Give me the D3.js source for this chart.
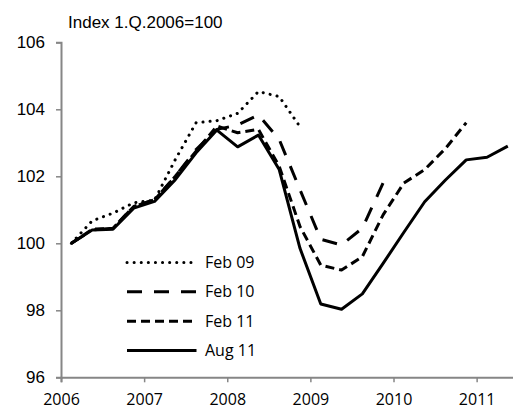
<!DOCTYPE html>
<html><head><meta charset="utf-8">
<script src="https://cdn.jsdelivr.net/npm/d3@7"></script>
<style>body{margin:0;background:#fff}svg{display:block}</style>
</head><body>
<svg id="c" width="513" height="410"></svg>
<script>
const quarters = ["2006Q1","2006Q2","2006Q3","2006Q4","2007Q1","2007Q2","2007Q3","2007Q4","2008Q1","2008Q2","2008Q3","2008Q4","2009Q1","2009Q2","2009Q3","2009Q4","2010Q1","2010Q2","2010Q3","2010Q4","2011Q1","2011Q2"];
const feb09 = [100.0, 100.67, 100.9, 101.21, 101.29, 102.5, 103.6, 103.66, 103.88, 104.53, 104.38, 103.48];
const feb10 = [100.0, 100.4, 100.45, 101.1, 101.3, 102.0, 102.8, 103.4, 103.53, 103.83, 103.1, 101.6, 100.12, 99.95, 100.45, 101.8];
const feb11 = [100.0, 100.42, 100.45, 101.1, 101.3, 102.0, 102.75, 103.5, 103.3, 103.4, 102.3, 100.5, 99.35, 99.2, 99.6, 100.85, 101.8, 102.2, 102.83, 103.6];
const aug11 = [100.0, 100.40, 100.42, 101.05, 101.25, 101.9, 102.7, 103.38, 102.88, 103.23, 102.2, 99.85, 98.19, 98.03, 98.49, 99.4, 100.33, 101.24, 101.89, 102.49, 102.57, 102.9];
const seriesNames = ["Feb 09","Feb 10","Feb 11","Aug 11"];
const yTicks = [96, 98, 100, 102, 104, 106];
const xTicks = [2006, 2007, 2008, 2009, 2010, 2011];
const yTitle = "Index 1.Q.2006=100";

const series = [
  {name: seriesNames[0], values: feb09, dash: "0.1,7", cap: "round"},
  {name: seriesNames[1], values: feb10, dash: "15,12", cap: "butt"},
  {name: seriesNames[2], values: feb11, dash: "9,5", cap: "butt"},
  {name: seriesNames[3], values: aug11, dash: null, cap: "butt"}
];

const svg = d3.select("#c");
const x = d3.scaleBand().domain(quarters).range([61, 518.2]).padding(0);
const xYear = d3.scaleLinear().domain([2006, 2011.5]).range([61, 518.2]);
const y = d3.scaleLinear().domain([96, 106]).range([377.3, 42.3]);
const axisColor = "#868686";

// y axis
const ya = svg.append("g").attr("transform", "translate(61,0)")
  .call(d3.axisLeft(y).tickValues(yTicks).tickSize(5).tickPadding(11).tickFormat(d3.format("d")));
ya.select(".domain").attr("stroke", axisColor).attr("stroke-width", 2);
ya.selectAll(".tick line").attr("stroke", axisColor).attr("stroke-width", 1.5);
ya.selectAll(".tick text").attr("font-family", "Liberation Sans, Arial, sans-serif").attr("font-size", 17).attr("fill", "#000");

// x axis
const xa = svg.append("g").attr("transform", "translate(0,377.3)")
  .call(d3.axisBottom(xYear).tickValues(xTicks).tickSize(5).tickPadding(11).tickFormat(d3.format("d")));
xa.select(".domain").attr("stroke", axisColor).attr("stroke-width", 2);
xa.selectAll(".tick line").attr("stroke", axisColor).attr("stroke-width", 1.5);
xa.selectAll(".tick text").attr("font-family", "Open Sans, sans-serif").attr("font-size", 16).attr("fill", "#000");

// title
svg.append("text").attr("x", 68).attr("y", 27.5).text(yTitle)
  .attr("font-family", "Liberation Sans, Arial, sans-serif").attr("font-size", 17).attr("fill", "#000");

const line = d3.line().x((d, i) => x(quarters[i]) + x.bandwidth() / 2).y(d => y(d));

series.forEach(s => {
  svg.append("path").datum(s.values).attr("d", line)
    .attr("fill", "none").attr("stroke", "#000").attr("stroke-width", 3)
    .attr("stroke-linejoin", "round").attr("stroke-linecap", s.cap)
    .attr("stroke-dasharray", s.dash);
});

// legend
const legendY = d3.scalePoint().domain(seriesNames).range([262.5, 350.5]);
series.forEach(s => {
  const g = svg.append("g").attr("transform", `translate(0,${legendY(s.name)})`);
  g.append("line").attr("x1", 127).attr("x2", 196.5).attr("y1", 0).attr("y2", 0)
    .attr("stroke", "#000").attr("stroke-width", 3)
    .attr("stroke-linecap", s.cap).attr("stroke-dasharray", s.dash);
  g.append("text").attr("x", 205).attr("y", 0).attr("dy", "0.35em").text(s.name)
    .attr("font-family", "Open Sans, sans-serif").attr("font-size", 16).attr("fill", "#000");
});
</script>
</body></html>
